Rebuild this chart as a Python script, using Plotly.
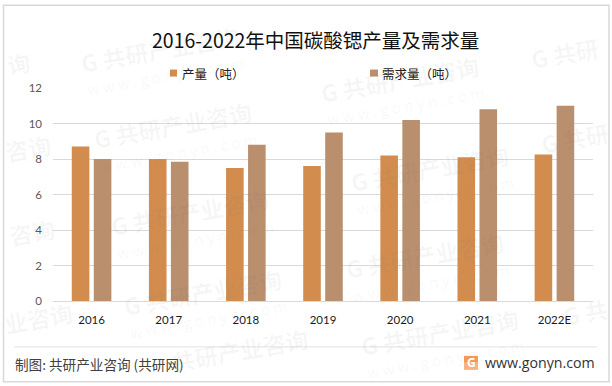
import plotly.graph_objects as go

W, H = 612, 386
L, R, T, B = 53, 593, 87.5, 301

categories = ["2016", "2017", "2018", "2019", "2020", "2021", "2022E"]
production = [8.7, 8.0, 7.5, 7.6, 8.2, 8.1, 8.25]
demand = [8.0, 7.85, 8.8, 9.5, 10.2, 10.8, 11.0]
y_ticks = [0, 2, 4, 6, 8, 10, 12]
title_text = "2016-2022年中国碳酸锶产量及需求量"
series_names = ["产量（吨）", "需求量（吨）"]
series_colors = ["#D18C4E", "#B98F6D"]
source_text = "制图: 共研产业咨询 (共研网)"
site_text = "www.gonyn.com"
mark_en = "w w w . g o n y n . c o m"
# watermark: text, centre x, centre y, show url line
marks = [("G 共研产业咨询", 160, 48, True), ("G 共研产业咨询", 173, 125, True),
         ("G 共研产业咨询", 190, 212, True), ("G 共研产业咨询", 203, 292, True),
         ("G 共研产业咨询", 400, 78, True), ("G 共研产业咨询", 430, 168, True),
         ("G 共研产业咨询", 425, 255, True), ("G 共研产业咨询", 440, 332, True),
         ("G 共研", 565, 52, False), ("G 共研", 575, 138, False), ("G 共", 585, 312, False),
         ("询", 18, 62, False), ("咨询", 28, 148, False), ("咨询", 32, 232, False), ("业咨询", 38, 318, False),
         ("共研产业咨询", 240, 350, False)]

LAT = "Lato, 'Noto Sans CJK SC', sans-serif"
FONT = "'Noto Sans CJK SC', sans-serif"


def px(x):
    return (x - L) / (R - L)


def py(y):
    return (B - y) / (B - T)


def label(text, x, y, size, color, family=FONT, xanchor="center", **kw):
    return dict(text=text, x=px(x), y=py(y), xref="paper", yref="paper", showarrow=False,
                xanchor=xanchor, yanchor="middle", font=dict(family=family, size=size, color=color), **kw)


fig = go.Figure()
fig.add_bar(name=series_names[0], x=categories, y=production, marker_color=series_colors[0], marker_line_width=0)
fig.add_bar(name=series_names[1], x=categories, y=demand, marker_color=series_colors[1], marker_line_width=0)

ann = []
for text, cx, cy, url in marks:
    ann.append(label("<b>" + text + "</b>", cx, cy, 23, "rgba(110,110,110,0.06)", textangle=-10))
    if url:
        ann.append(label(mark_en, cx + 5, cy + 27, 15, "rgba(110,110,110,0.06)", textangle=-10))

ann += [
    label(title_text, 315.5, 39, 19.5, "#111111"),
    label(series_names[0], 180, 73, 12.5, "#222222", xanchor="left"),
    label(series_names[1], 380, 73, 12.5, "#222222", xanchor="left"),
    label(source_text, 13, 364, 13.6, "#404040", xanchor="left"),
    label(site_text, 597, 363, 14.2, "#333333", family="'Open Sans', sans-serif", xanchor="right"),
    label("<b>G</b>", 471, 363, 12, "#FFFFFF", family="'Open Sans', sans-serif"),
]

shapes = [
    dict(type="rect", xref="paper", yref="paper", x0=px(3.5), x1=px(609), y0=py(4.5), y1=py(382),
         line=dict(color="#D9D9D9", width=1.5), layer="below"),
    dict(type="line", xref="paper", yref="paper", x0=px(14), x1=px(597), y0=py(347), y1=py(347),
         line=dict(color="#E2E2E2", width=1), layer="below"),
    dict(type="rect", xref="paper", yref="paper", x0=px(464), x1=px(478), y0=py(356), y1=py(363),
         fillcolor="#F39A57", line_width=0, layer="below"),
    dict(type="rect", xref="paper", yref="paper", x0=px(464), x1=px(478), y0=py(363), y1=py(370),
         fillcolor="#F7B283", line_width=0, layer="below"),
    dict(type="rect", xref="paper", yref="paper", x0=px(170), x1=px(177), y0=py(69), y1=py(76),
         fillcolor=series_colors[0], line_width=0),
    dict(type="rect", xref="paper", yref="paper", x0=px(370), x1=px(378), y0=py(69), y1=py(76),
         fillcolor=series_colors[1], line_width=0),
]

fig.update_layout(
    width=W, height=H, margin=dict(l=L, r=W - R, t=T, b=H - B, pad=0),
    paper_bgcolor="white", plot_bgcolor="white",
    barmode="group", bargap=0.43, bargroupgap=0.2,
    showlegend=False,
    xaxis=dict(type="category", showgrid=False, ticks="", showline=True, linecolor="#D9D9D9", linewidth=1,
               tickfont=dict(family=LAT, size=11.5, color="#1A1A1A"), ticklabelstandoff=8),
    yaxis=dict(range=[0, 12], tickvals=y_ticks, gridcolor="#D9D9D9", gridwidth=1, showline=False, zeroline=False,
               ticks="", ticklabelstandoff=10, tickfont=dict(family=LAT, size=11.5, color="#595959")),
    annotations=ann, shapes=shapes,
    font=dict(family=FONT),
)

fig.write_html("out.html", config={"displayModeBar": False}, post_script="document.body.style.margin='0';")
